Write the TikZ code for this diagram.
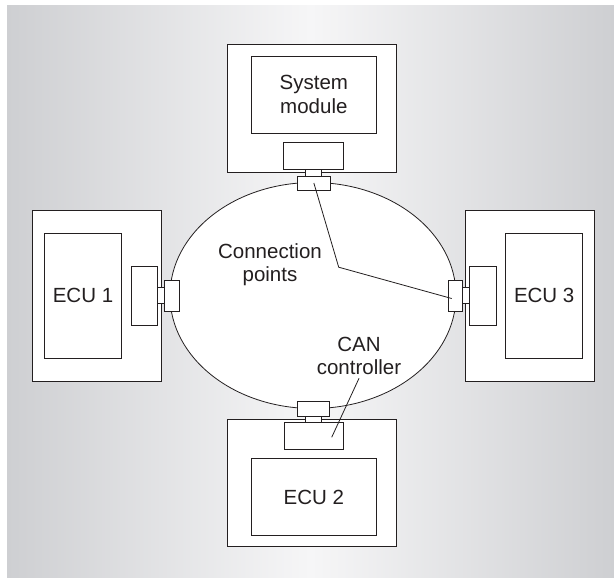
\documentclass[tikz,border=0pt]{standalone}
\usepackage{fontspec}
\setmainfont{Liberation Sans}
\usetikzlibrary{shapes.geometric}
\definecolor{bgside}{RGB}{206,207,210}
\definecolor{bgmid}{RGB}{246,246,247}
\definecolor{ink}{RGB}{35,31,32}

\begin{document}
\begin{tikzpicture}[x=1pt, y=-1pt,
    part/.style={rectangle, draw=ink, fill=white, line width=0.8pt, inner sep=0pt},
    ringline/.style={ellipse, draw=ink, fill=white, line width=0.8pt, inner sep=0pt},
    lbl/.style={text=ink, font=\fontsize{20.5}{23.5}\selectfont, align=center},
    leader/.style={draw=ink, line width=0.8pt}]
  \useasboundingbox (0,0) rectangle (614,578);
  % Backdrop
  \shade[left color=bgside, right color=bgside, middle color=bgmid] (7,6) rectangle (614,578);
  % Bus
  \node[ringline, minimum width=286pt, minimum height=226pt] (bus) at (313,295.5) {};
  % System module (top)
  \node[part, minimum width=169.4pt, minimum height=128.4pt] (sysbox) at (312,108.5) {};
  \node[part, lbl, minimum width=125.7pt, minimum height=77.3pt] (sysmod) at (313.85,94.65) {System\\module};
  \node[part, minimum width=60pt, minimum height=26.7pt] (sysctrl) at (313.3,155.65) {};
  \node[part, minimum width=16pt, minimum height=7pt] (sysstub) at (313.7,172.5) {};
  \node[part, minimum width=32.3pt, minimum height=14pt] (syspt) at (313.85,183) {};
  % ECU 1 (left)
  \node[part, minimum width=129pt, minimum height=171.7pt] (ecuAbox) at (97.2,295.85) {};
  \node[part, lbl, minimum width=77.4pt, minimum height=125pt] (ecuAmod) at (83,295.8) {ECU 1};
  \node[part, minimum width=26.7pt, minimum height=59.3pt] (ecuActrl) at (144.35,295.65) {};
  \node[part, minimum width=6.3pt, minimum height=15.6pt] (ecuAstub) at (160.85,295.5) {};
  \node[part, minimum width=15pt, minimum height=31.7pt] (ecuApt) at (171.5,295.85) {};
  % ECU 3 (right)
  \node[part, minimum width=128.6pt, minimum height=171.7pt] (ecuCbox) at (530,295.85) {};
  \node[part, lbl, minimum width=77pt, minimum height=125pt] (ecuCmod) at (544.2,295.8) {ECU 3};
  \node[part, minimum width=27.4pt, minimum height=59.3pt] (ecuCctrl) at (483,295.65) {};
  \node[part, minimum width=7pt, minimum height=15.6pt] (ecuCstub) at (465.8,295.5) {};
  \node[part, minimum width=14pt, minimum height=31.7pt] (ecuCpt) at (455.3,295.85) {};
  % ECU 2 (bottom)
  \node[part, minimum width=169.4pt, minimum height=127.7pt] (ecuBbox) at (312,482.85) {};
  \node[part, lbl, minimum width=125.7pt, minimum height=77pt] (ecuBmod) at (313.85,497.2) {ECU 2};
  \node[part, minimum width=59.3pt, minimum height=27pt] (ecuBctrl) at (313.65,435.8) {};
  \node[part, minimum width=16pt, minimum height=6.3pt] (ecuBstub) at (313.7,419.15) {};
  \node[part, minimum width=31.6pt, minimum height=14.3pt] (ecuBpt) at (313.5,408.85) {};
  % Callouts
  \node[lbl] (cplbl) at (270,264.8) {Connection\\points};
  \node[lbl] (canlbl) at (359,355.8) {CAN\\controller};
  \coordinate (cpbend) at (338.7,267.2);
  \coordinate (cptip) at (451.7,298.5);
  \coordinate (cantip) at (331.7,437.3);
  \draw[leader] (syspt.center) -- (cpbend) -- (cptip);
  \draw[leader] (canlbl.south) -- (cantip);
\end{tikzpicture}
\end{document}
